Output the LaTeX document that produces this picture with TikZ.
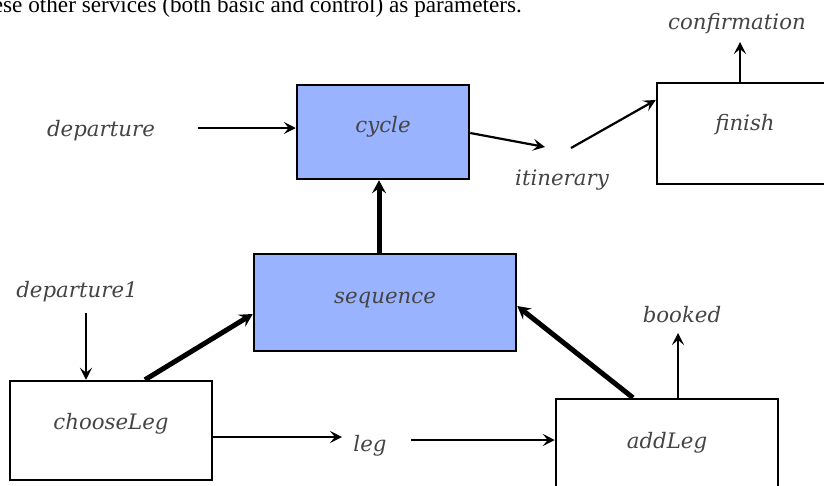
\documentclass[tikz,border=0pt]{standalone}
\usepackage{fontspec}
\setmainfont{Liberation Serif}
\newfontfamily\lblfont{DejaVu Serif}
\usetikzlibrary{arrows.meta}
\definecolor{procfill}{HTML}{99B3FF}
\definecolor{lblgray}{HTML}{444444}
\begin{document}
\begin{tikzpicture}[x=1pt,y=-1pt,
  box/.style={draw=black, line width=2.5pt, inner sep=0pt},
  boxtext/.style={font=\lblfont\itshape\fontsize{21.3}{25}\selectfont, text=lblgray},
  lbl/.style={font=\lblfont\itshape\fontsize{21.3}{25}\selectfont, text=lblgray, inner sep=0pt},
  flow/.style={line width=2.2pt, -{Stealth[length=12pt,width=12pt,inset=5pt]}},
  ctrl/.style={line width=5pt, -{Stealth[length=13pt,width=14pt,inset=5pt]}}
]
\useasboundingbox (0,0) rectangle (824,485);
\clip (0,0) rectangle (824,485);

% caption line running off the top edge
\node[anchor=base east, inner sep=0pt, font=\fontsize{23.2}{27}\selectfont]
  (caption) at (522,12.5) {ese other services (both basic and control) as parameters.};

% service boxes
\node[box, fill=procfill, minimum width=172pt, minimum height=94pt,
  label={[boxtext, yshift=5pt]center:cycle}] (cycle) at (383,132) {};
\node[box, minimum width=176pt, minimum height=101pt,
  label={[boxtext, yshift=9pt]center:finish}] (finish) at (745,133.5) {};
\node[box, fill=procfill, minimum width=262pt, minimum height=97pt,
  label={[boxtext, yshift=2pt]center:sequence}] (sequence) at (385,302.5) {};
\node[box, minimum width=202pt, minimum height=99pt,
  label={[boxtext, yshift=7pt]center:chooseLeg}] (chooseLeg) at (111,430.5) {};
\node[box, minimum width=222pt, minimum height=101pt,
  label={[boxtext, yshift=7pt]center:addLeg}] (addLeg) at (667,449.5) {};

% parameter labels
\node[lbl] (departure) at (101,131) {departure};
\node[lbl] (itinerary) at (562,180) {itinerary};
\node[lbl] (confirmation) at (737,24) {confirmation};
\node[lbl] (departure1) at (77,292) {departure1};
\node[lbl] (booked) at (682,315) {booked};
\node[lbl] (leg) at (370,446) {leg};

% free ends of the connectors
\coordinate (depOut) at (198,128);
\coordinate (itinIn) at (545,147);
\coordinate (itinOut) at (571,148);
\coordinate (confIn) at (740,42);
\coordinate (dep1Out) at (86,313);
\coordinate (bookedIn) at (678,333);
\coordinate (legIn) at (342,437);
\coordinate (legOut) at (411,440);

% data flow
\draw[flow] (depOut) -- (depOut -| cycle.west);
\draw[flow] (cycle.east |- 0,133) -- (itinIn);
\draw[flow] (itinOut) -- (finish.west |- 0,100);
\draw[flow] (finish.north -| confIn) -- (confIn);
\draw[flow] (dep1Out) -- (dep1Out |- chooseLeg.north);
\draw[flow] (chooseLeg.east |- legIn) -- (legIn);
\draw[flow] (legOut) -- (legOut -| addLeg.west);
\draw[flow] (addLeg.north -| bookedIn) -- (bookedIn);

% control composition
\draw[ctrl] (sequence.north -| 379,0) -- (cycle.south -| 379,0);
\draw[ctrl] (chooseLeg.north -| 145,0) -- (sequence.west |- 0,314);
\draw[ctrl] (addLeg.north -| 633,0) -- (sequence.east |- 0,306);
\end{tikzpicture}
\end{document}
